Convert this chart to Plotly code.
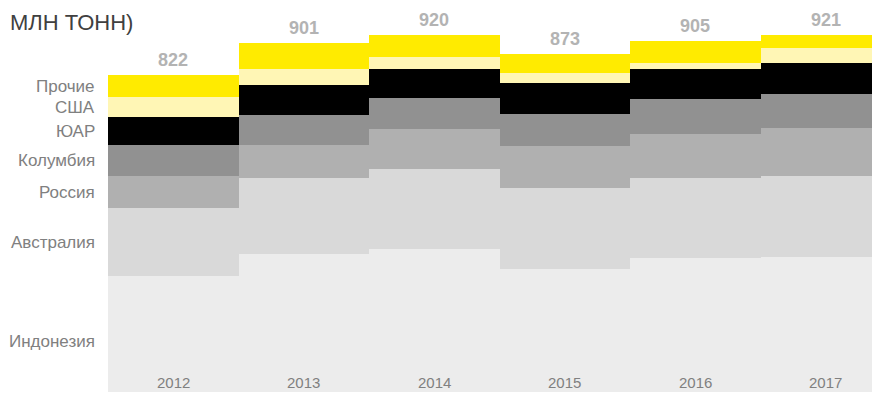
import plotly.graph_objects as go

years = ['2012', '2013', '2014', '2015', '2016', '2017']
countries = ['Индонезия', 'Австралия', 'Россия', 'Колумбия', 'ЮАР', 'США', 'Прочие']

indonesia = [324, 379, 390, 341, 368, 372]
australia = [168, 187, 200, 200, 198, 200]
russia = [79, 82, 97, 104, 109, 119]
colombia = [77, 74, 77, 79, 87, 84]
south_africa = [69, 74, 72, 77, 74, 77]
usa = [50, 41, 30, 25, 15, 37]
other = [55, 64, 54, 47, 54, 32]

totals = [822, 901, 920, 873, 905, 921]

series = [indonesia, australia, russia, colombia, south_africa, usa, other]
colors = ['#ececec', '#d9d9d9', '#b0b0b0', '#919191', '#000000', '#fff6b5', '#ffeb00']

FONT = 'Liberation Sans, Arial, sans-serif'

fig = go.Figure()
for name, vals, color in zip(countries, series, colors):
    fig.add_trace(go.Bar(
        x=years, y=vals, name=name, width=1,
        marker=dict(color=color, line=dict(width=0)),
        hoverinfo='name+y'
    ))

# totals above bars
for i, tot in enumerate(totals):
    fig.add_annotation(x=i, y=tot, text='<b>%d</b>' % tot, showarrow=False,
                       yanchor='bottom', yshift=3,
                       font=dict(family=FONT, size=18, color='#b3b3b3'))

# year labels inside bars at the bottom
for i, yr in enumerate(years):
    fig.add_annotation(x=i, y=0.025, yref='paper', text=yr, showarrow=False,
                       yanchor='middle', font=dict(family=FONT, size=15, color='#808080'))

# country labels next to the first bar
base = 0
for name, vals in zip(countries, series):
    mid = base + vals[0] / 2
    base += vals[0]
    fig.add_annotation(x=-0.0144, xref='paper', y=mid, text=name, showarrow=False,
                       xanchor='right', yanchor='middle',
                       font=dict(family=FONT, size=17, color='#808080'))

fig.add_annotation(x=-0.1309, xref='paper', y=1.0, yref='paper', text='МЛН ТОНН)',
                   showarrow=False, xanchor='left', yanchor='top',
                   font=dict(family=FONT, size=22, color='#404040'))

# sized to fit inside the page's 8px body margin without scrollbars
fig.update_layout(
    width=864, height=384,
    barmode='stack', bargap=0,
    showlegend=False,
    plot_bgcolor='white', paper_bgcolor='white',
    margin=dict(l=100, r=0, t=0, b=0),
    xaxis=dict(type='category', range=[-0.5, 5.354], showticklabels=False,
               showgrid=False, zeroline=False, showline=False),
    yaxis=dict(range=[37.1, 987.6], showticklabels=False, showgrid=False,
               zeroline=False, showline=False),
)

fig.write_html("out.html")
